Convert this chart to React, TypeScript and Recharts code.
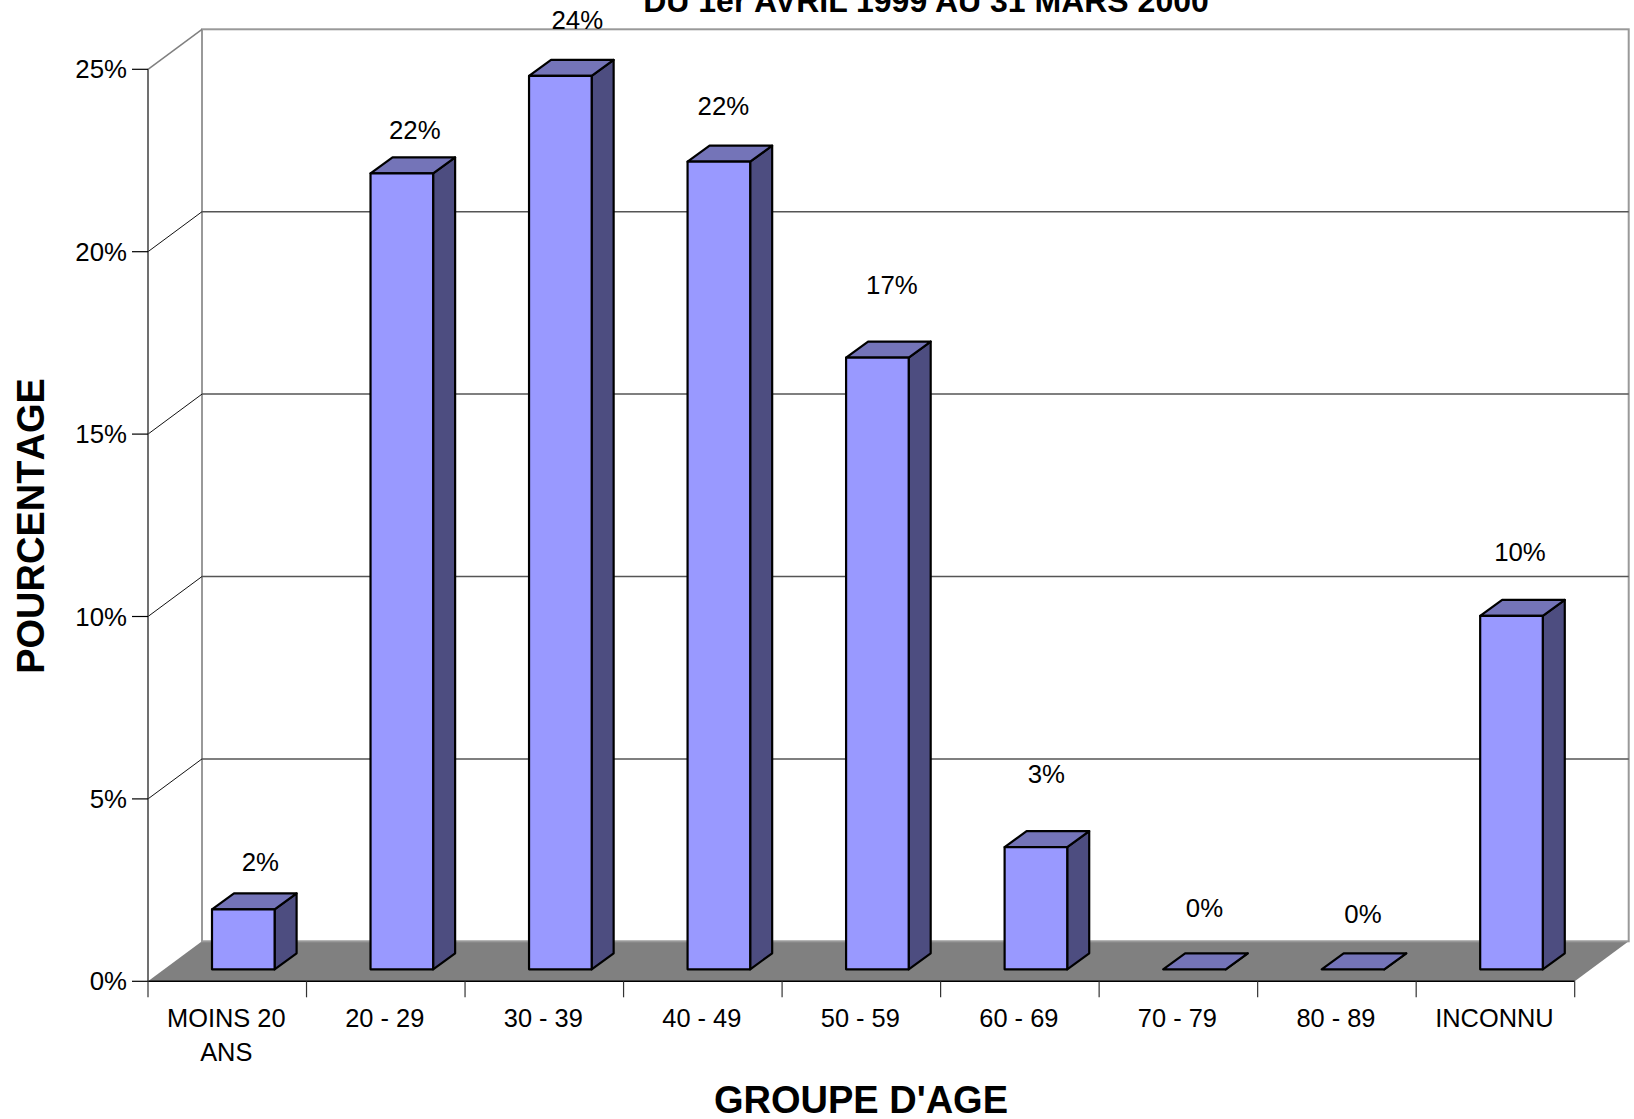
import { Bar, BarChart, LabelList, ReferenceArea, ReferenceLine, XAxis, YAxis } from 'recharts'

const categories = ['MOINS 20\nANS', '20 - 29', '30 - 39', '40 - 49', '50 - 59', '60 - 69', '70 - 79', '80 - 89', 'INCONNU']
const shares = [1.64, 21.82, 24.49, 22.14, 16.77, 3.35, 0, 0, 9.69]
const yTicks = [0, 5, 10, 15, 20, 25]
const gridValues = [5, 10, 15, 20]

const rows = categories.map((group, i) => ({ group, share: shares[i] }))

const WIDTH = 1634
const HEIGHT = 1119
const PLOT_LEFT = 148
const PLOT_RIGHT = 1574.7
const PLOT_TOP = 69.3
const PLOT_BOTTOM = 981.3
const BAND = (PLOT_RIGHT - PLOT_LEFT) / categories.length

// oblique projection of the box: back wall sits up and to the right of the axes
const WALL_DX = 54
const WALL_DY = 40
// bars stand 12px behind the front edge of the floor and are 16px deep
const BAR_SHIFT_X = 16
const BAR_SHIFT_Y = 12
const BAR_DX = 22
const BAR_DY = 16

const FONT = '"Liberation Sans", Arial, sans-serif'
const TEXT_SIZE = 25.8

// the value labels were placed by hand, offset from the top middle of each bar
const labelOffsets = [
  [17, -47],
  [13, -43],
  [17, -56],
  [4.5, -56],
  [14.5, -73],
  [10.5, -73],
  [10, -61],
  [10, -55],
  [8.5, -64],
]

function Walls({ x, y, width, height }: any) {
  const bottom = y + height
  return (
    <g>
      <polygon
        points={`${x},${bottom} ${x + width},${bottom} ${x + width + WALL_DX},${bottom - WALL_DY} ${x + WALL_DX},${bottom - WALL_DY}`}
        fill="#808080"
      />
      <rect x={x + WALL_DX} y={y - WALL_DY} width={width} height={height} fill="none" stroke="#999999" strokeWidth={2} />
      <line x1={x} y1={y} x2={x + WALL_DX} y2={y - WALL_DY} stroke="#808080" strokeWidth={1.5} />
    </g>
  )
}

function WallGridLine({ x1, y1, x2 }: any) {
  return (
    <g>
      <line x1={x1} y1={y1} x2={x1 + WALL_DX} y2={y1 - WALL_DY} stroke="#111111" strokeWidth={1} />
      <line x1={x1 + WALL_DX} y1={y1 - WALL_DY} x2={x2 + WALL_DX} y2={y1 - WALL_DY} stroke="#555555" strokeWidth={1.5} />
    </g>
  )
}

function Bar3D({ x, y, width, height }: any) {
  const left = x + BAR_SHIFT_X
  const right = left + width
  const top = y - BAR_SHIFT_Y
  const bottom = top + height
  return (
    <g stroke="#000000" strokeWidth={2.2} strokeLinejoin="round">
      <polygon
        points={`${right},${top} ${right + BAR_DX},${top - BAR_DY} ${right + BAR_DX},${bottom - BAR_DY} ${right},${bottom}`}
        fill="#4d4d80"
      />
      <polygon
        points={`${left},${top} ${left + BAR_DX},${top - BAR_DY} ${right + BAR_DX},${top - BAR_DY} ${right},${top}`}
        fill="#7474b8"
      />
      {height > 0 && <rect x={left} y={top} width={width} height={height} fill="#9999ff" />}
    </g>
  )
}

function ValueLabel({ x, y, width, value, index }: any) {
  const [dx, dy] = labelOffsets[index]
  return (
    <text
      x={x + BAR_SHIFT_X + width / 2 + dx}
      y={y - BAR_SHIFT_Y + dy}
      textAnchor="middle"
      dominantBaseline="central"
      fontFamily={FONT}
      fontSize={TEXT_SIZE}
      fill="#000000"
    >
      {`${Math.round(value)}%`}
    </text>
  )
}

function GroupTick({ x, y, payload, index }: any) {
  const lines = String(payload.value).split('\n')
  const edge = x - BAND / 2
  return (
    <g>
      <line x1={edge} y1={y} x2={edge} y2={y + 16} stroke="#333333" strokeWidth={1.2} />
      {index === categories.length - 1 && (
        <line x1={x + BAND / 2} y1={y} x2={x + BAND / 2} y2={y + 16} stroke="#333333" strokeWidth={1.2} />
      )}
      <text textAnchor="middle" fontFamily={FONT} fontSize={25.4} fill="#000000">
        {lines.map((line, i) => (
          <tspan key={line} x={x - 1} y={y + 46 + i * 33.5}>
            {line}
          </tspan>
        ))}
      </text>
    </g>
  )
}

export default function App() {
  return (
    <div style={{ position: 'absolute', left: 0, top: 0, width: WIDTH, height: HEIGHT }}>
      <BarChart
        width={WIDTH}
        height={HEIGHT}
        data={rows}
        barSize={62.6}
        margin={{ top: PLOT_TOP, right: WIDTH - PLOT_RIGHT, bottom: 0, left: 0 }}
      >
        <XAxis
          dataKey="group"
          height={HEIGHT - PLOT_BOTTOM}
          interval={0}
          tickLine={false}
          tickSize={0}
          tickMargin={0}
          tick={<GroupTick />}
          axisLine={{ stroke: '#000000', strokeWidth: 1.5 }}
        />
        <YAxis
          width={PLOT_LEFT}
          domain={[0, 25]}
          ticks={yTicks}
          tickSize={16}
          tickMargin={5}
          tickFormatter={(v) => `${v}%`}
          tick={{ fontFamily: FONT, fontSize: TEXT_SIZE, fill: '#000000' }}
          tickLine={{ stroke: '#000000', strokeWidth: 1.2 }}
          axisLine={{ stroke: '#404040', strokeWidth: 1.5 }}
        />
        <ReferenceArea y1={0} y2={25} shape={<Walls />} zIndex={-20} ifOverflow="visible" />
        {gridValues.map((v) => (
          <ReferenceLine key={v} y={v} shape={<WallGridLine />} zIndex={-10} ifOverflow="visible" />
        ))}
        <Bar dataKey="share" shape={<Bar3D />} isAnimationActive={false}>
          <LabelList dataKey="share" content={<ValueLabel />} />
        </Bar>
        <text x={926} y={12} textAnchor="middle" fontFamily={FONT} fontSize={32} fontWeight="bold" fill="#000000">
          DU 1er AVRIL 1999 AU 31 MARS 2000
        </text>
        <text
          transform="translate(44 526) rotate(-90)"
          textAnchor="middle"
          fontFamily={FONT}
          fontSize={38}
          fontWeight="bold"
          fill="#000000"
          style={{ fontKerning: 'none' }}
        >
          POURCENTAGE
        </text>
        <text x={861} y={1113} textAnchor="middle" fontFamily={FONT} fontSize={38} fontWeight="bold" fill="#000000">
          GROUPE D'AGE
        </text>
      </BarChart>
    </div>
  )
}
